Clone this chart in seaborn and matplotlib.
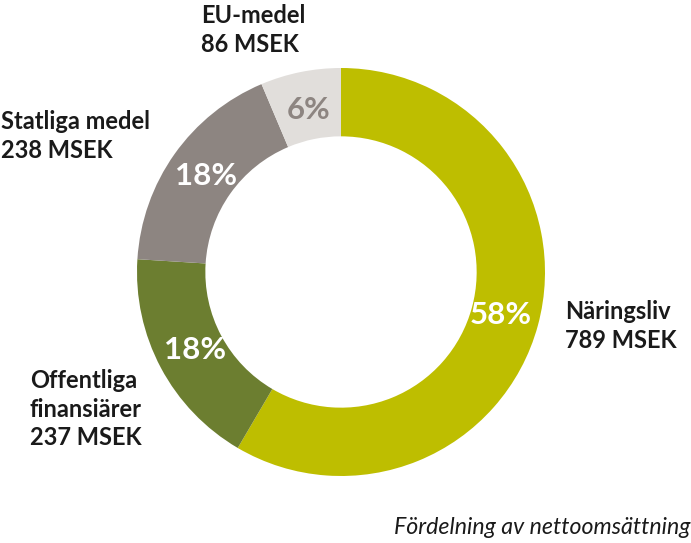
import matplotlib
matplotlib.use("Agg")
import matplotlib.pyplot as plt
import seaborn as sns

categories = ["Näringsliv", "Offentliga\nfinansiärer", "Statliga medel", "EU-medel"]
values_msek = [789, 237, 238, 86]
colors = ["#BEBE00", "#6C7E30", "#8D8581", "#E1DEDB"]
pct_colors = ["white", "white", "white", "#8D8581"]

sns.set_theme(style="white")
plt.rcParams["font.family"] = ["Lato", "DejaVu Sans"]

W, H = 691, 543
fig = plt.figure(figsize=(W / 100, H / 100), dpi=100)
cx, cy, R = 341, 272, 204
ax = fig.add_axes([(cx - R) / W, (H - cy - R) / H, 2 * R / W, 2 * R / H])

wedges, texts, autotexts = ax.pie(
    values_msek, colors=colors, startangle=90, counterclock=False,
    radius=1.0, wedgeprops=dict(width=0.335, linewidth=0),
    autopct=lambda p: f"{p:.0f}%", pctdistance=0.81,
)
for t, c in zip(autotexts, pct_colors):
    t.set_color(c)
    t.set_fontsize(22.5)
    t.set_fontweight("bold")
ax.set_xlim(-1, 1)
ax.set_ylim(-1, 1)
ax.set_aspect("equal")
ax.axis("off")

def px(x, y):
    return x / W, 1 - y / H

label_pos = {
    "Näringsliv": (565, 300),
    "Offentliga\nfinansiärer": (30, 369),
    "Statliga medel": (1, 110),
    "EU-medel": (201, 4),
}
for cat, v in zip(categories, values_msek):
    x, y = label_pos[cat]
    fig.text(*px(x, y), f"{cat}\n{v} MSEK", ha="left", va="top",
             fontsize=17, fontweight="bold", color="#1a1a1a", linespacing=1.3)

fig.text(*px(690, 528), "Fördelning av nettoomsättning", ha="right", va="center",
         fontsize=16.7, style="italic", color="#1a1a1a")

fig.savefig("out.png", dpi=100, facecolor="white")
